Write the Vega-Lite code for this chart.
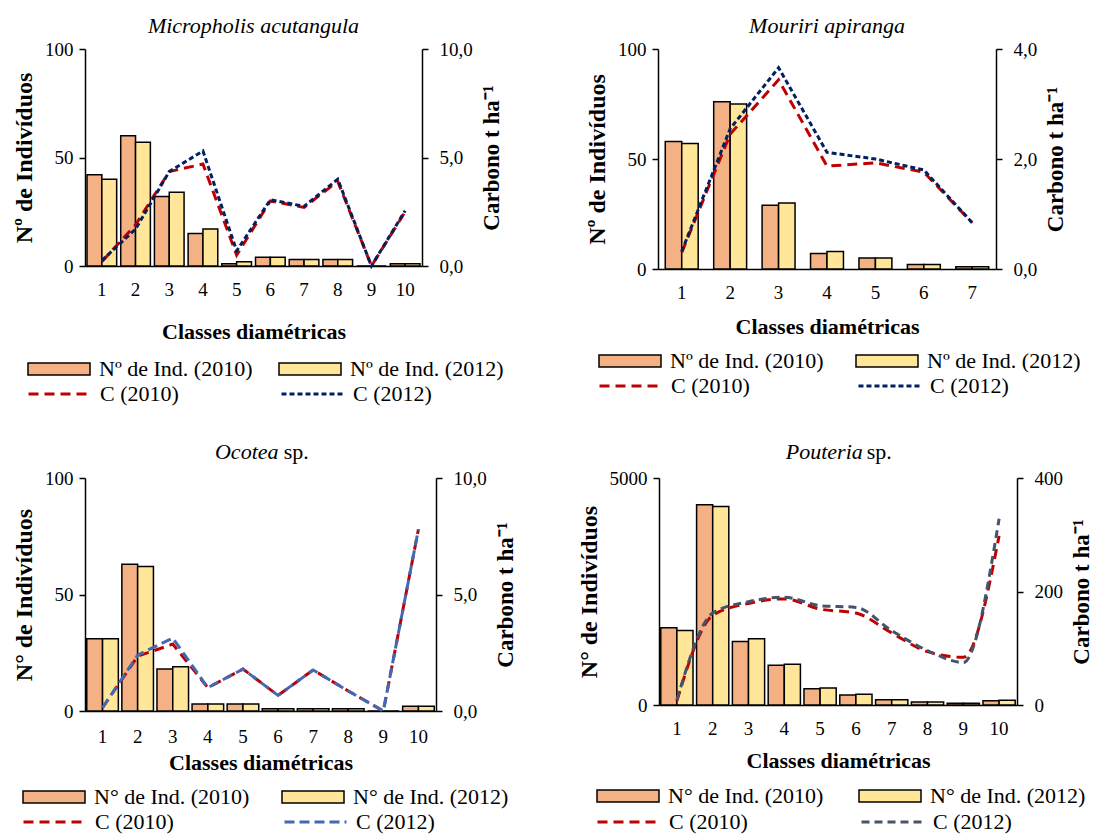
{
  "$schema": "https://vega.github.io/schema/vega-lite/v6.json",
  "padding": {"left": 12, "top": 15, "right": 5, "bottom": 5},
  "config": {
    "font": "Liberation Serif",
    "view": {"stroke": null},
    "axis": {"labelFont": "Liberation Serif", "labelFontSize": 19, "labelColor": "black", "titleFont": "Liberation Serif", "titleFontSize": 22, "titleFontWeight": "bold", "titleColor": "black", "domainColor": "black", "domainWidth": 1.5, "tickColor": "black", "tickWidth": 1.5, "tickSize": 6, "grid": false},
    "axisLeft": {"titleFontSize": 24},
    "axisRight": {"titleFontSize": 23},
    "legend": {"labelFont": "Liberation Serif", "labelFontSize": 22, "labelColor": "black", "padding": 0, "labelLimit": 400, "title": null},
    "title": {"font": "Liberation Serif", "fontSize": 22, "fontStyle": "italic", "fontWeight": "normal", "color": "black", "frame": "group", "anchor": "middle", "subtitleFont": "Liberation Serif", "subtitleFontSize": 22, "subtitleFontStyle": "normal", "subtitleColor": "black", "subtitlePadding": -22}
  },
  "resolve": {"scale": {"fill": "independent", "stroke": "independent", "strokeDash": "independent", "xOffset": "independent"}},
  "spacing": 36,
  "vconcat": [
    {
      "spacing": 81,
      "resolve": {"scale": {"fill": "independent", "stroke": "independent", "strokeDash": "independent", "xOffset": "independent"}},
      "hconcat": [
        {
          "width": 337, "height": 217,
          "title": {"text": "Micropholis acutangula", "offset": 2},
          "data": {"values": [
            {"classe": 1, "barra": "Nº de Ind. (2010)", "linha": "C (2010)", "n": 42, "c": 0.2},
            {"classe": 1, "barra": "Nº de Ind. (2012)", "linha": "C (2012)", "n": 40, "c": 0.25},
            {"classe": 2, "barra": "Nº de Ind. (2010)", "linha": "C (2010)", "n": 60, "c": 1.9},
            {"classe": 2, "barra": "Nº de Ind. (2012)", "linha": "C (2012)", "n": 57, "c": 1.7},
            {"classe": 3, "barra": "Nº de Ind. (2010)", "linha": "C (2010)", "n": 32, "c": 4.35},
            {"classe": 3, "barra": "Nº de Ind. (2012)", "linha": "C (2012)", "n": 34, "c": 4.35},
            {"classe": 4, "barra": "Nº de Ind. (2010)", "linha": "C (2010)", "n": 15, "c": 4.7},
            {"classe": 4, "barra": "Nº de Ind. (2012)", "linha": "C (2012)", "n": 17, "c": 5.3},
            {"classe": 5, "barra": "Nº de Ind. (2010)", "linha": "C (2010)", "n": 1, "c": 0.5},
            {"classe": 5, "barra": "Nº de Ind. (2012)", "linha": "C (2012)", "n": 2, "c": 0.7},
            {"classe": 6, "barra": "Nº de Ind. (2010)", "linha": "C (2010)", "n": 4, "c": 3.0},
            {"classe": 6, "barra": "Nº de Ind. (2012)", "linha": "C (2012)", "n": 4, "c": 3.05},
            {"classe": 7, "barra": "Nº de Ind. (2010)", "linha": "C (2010)", "n": 3, "c": 2.7},
            {"classe": 7, "barra": "Nº de Ind. (2012)", "linha": "C (2012)", "n": 3, "c": 2.75},
            {"classe": 8, "barra": "Nº de Ind. (2010)", "linha": "C (2010)", "n": 3, "c": 3.9},
            {"classe": 8, "barra": "Nº de Ind. (2012)", "linha": "C (2012)", "n": 3, "c": 4.0},
            {"classe": 9, "barra": "Nº de Ind. (2010)", "linha": "C (2010)", "n": 0, "c": 0.0},
            {"classe": 9, "barra": "Nº de Ind. (2012)", "linha": "C (2012)", "n": 0, "c": 0.0},
            {"classe": 10, "barra": "Nº de Ind. (2010)", "linha": "C (2010)", "n": 1, "c": 2.5},
            {"classe": 10, "barra": "Nº de Ind. (2012)", "linha": "C (2012)", "n": 1, "c": 2.55}
          ]},
          "layer": [
            {
              "mark": {"type": "bar", "stroke": "black", "strokeWidth": 1.5},
              "encoding": {
                "x": {"field": "classe", "type": "ordinal", "scale": {"paddingInner": 0.12, "paddingOuter": 0.06}, "axis": {"title": "Classes diamétricas", "labelAngle": 0, "ticks": false, "labelPadding": 14, "titlePadding": 22}},
                "xOffset": {"field": "barra", "type": "nominal"},
                "y": {"field": "n", "type": "quantitative", "scale": {"domain": [0, 100]}, "axis": {"title": "Nº de Indivíduos", "values": [0, 50, 100], "labelPadding": 6, "titlePadding": 8}},
                "fill": {"field": "barra", "type": "nominal", "scale": {"range": ["#F4B183", "#FFE699"]}, "legend": {"orient": "none", "legendX": -58, "legendY": 309, "direction": "horizontal", "columns": 2, "symbolType": "M-1,-0.19H1V0.19H-1Z", "symbolSize": 3844, "symbolStrokeColor": "black", "symbolStrokeWidth": 1.5, "labelOffset": 8, "columnPadding": 25, "clipHeight": 22}}
              }
            },
            {
              "mark": {"type": "line", "strokeWidth": 3},
              "encoding": {
                "x": {"field": "classe", "type": "ordinal"},
                "y": {"field": "c", "type": "quantitative", "scale": {"domain": [0, 10]}, "axis": {"orient": "right", "title": "Carbono t ha⁻¹", "values": [0, 5, 10], "labelExpr": "replace(format(datum.value, '.1f'), '.', ',')", "labelPadding": 11, "titlePadding": 8, "titleAngle": -90, "titleBaseline": "top"}},
                "stroke": {"field": "linha", "type": "nominal", "scale": {"range": ["#C00000", "#002060"]}, "legend": {"orient": "none", "legendX": -58, "legendY": 334, "direction": "horizontal", "columns": 2, "symbolType": "stroke", "symbolSize": 3844, "symbolStrokeWidth": 3, "labelOffset": 8, "columnPadding": 101, "clipHeight": 22}},
                "strokeDash": {"field": "linha", "type": "nominal", "scale": {"range": [[10, 6], [5, 3]]}, "legend": {"orient": "none", "legendX": -58, "legendY": 334, "direction": "horizontal", "columns": 2, "symbolType": "stroke", "symbolSize": 3844, "symbolStrokeWidth": 3, "labelOffset": 8, "columnPadding": 101, "clipHeight": 22}}
              }
            }
          ],
          "resolve": {"scale": {"y": "independent"}}
        },
        {
          "width": 338, "height": 220,
          "title": {"text": "Mouriri apiranga", "offset": 2},
          "data": {"values": [
            {"classe": 1, "barra": "Nº de Ind. (2010)", "linha": "C (2010)", "n": 58, "c": 0.3},
            {"classe": 1, "barra": "Nº de Ind. (2012)", "linha": "C (2012)", "n": 57, "c": 0.32},
            {"classe": 2, "barra": "Nº de Ind. (2010)", "linha": "C (2010)", "n": 76, "c": 2.45},
            {"classe": 2, "barra": "Nº de Ind. (2012)", "linha": "C (2012)", "n": 75, "c": 2.55},
            {"classe": 3, "barra": "Nº de Ind. (2010)", "linha": "C (2010)", "n": 29, "c": 3.44},
            {"classe": 3, "barra": "Nº de Ind. (2012)", "linha": "C (2012)", "n": 30, "c": 3.66},
            {"classe": 4, "barra": "Nº de Ind. (2010)", "linha": "C (2010)", "n": 7, "c": 1.87},
            {"classe": 4, "barra": "Nº de Ind. (2012)", "linha": "C (2012)", "n": 8, "c": 2.12},
            {"classe": 5, "barra": "Nº de Ind. (2010)", "linha": "C (2010)", "n": 5, "c": 1.93},
            {"classe": 5, "barra": "Nº de Ind. (2012)", "linha": "C (2012)", "n": 5, "c": 2.0},
            {"classe": 6, "barra": "Nº de Ind. (2010)", "linha": "C (2010)", "n": 2, "c": 1.76},
            {"classe": 6, "barra": "Nº de Ind. (2012)", "linha": "C (2012)", "n": 2, "c": 1.8},
            {"classe": 7, "barra": "Nº de Ind. (2010)", "linha": "C (2010)", "n": 1, "c": 0.84},
            {"classe": 7, "barra": "Nº de Ind. (2012)", "linha": "C (2012)", "n": 1, "c": 0.84}
          ]},
          "layer": [
            {
              "mark": {"type": "bar", "stroke": "black", "strokeWidth": 1.5},
              "encoding": {
                "x": {"field": "classe", "type": "ordinal", "scale": {"paddingInner": 0.32, "paddingOuter": 0.15}, "axis": {"title": "Classes diamétricas", "labelAngle": 0, "ticks": false, "labelPadding": 14, "titlePadding": 14}},
                "xOffset": {"field": "barra", "type": "nominal"},
                "y": {"field": "n", "type": "quantitative", "scale": {"domain": [0, 100]}, "axis": {"title": "Nº de Indivíduos", "values": [0, 50, 100], "labelPadding": 6, "titlePadding": 8}},
                "fill": {"field": "barra", "type": "nominal", "scale": {"range": ["#F4B183", "#FFE699"]}, "legend": {"orient": "none", "legendX": -60, "legendY": 301, "direction": "horizontal", "columns": 2, "symbolType": "M-1,-0.19H1V0.19H-1Z", "symbolSize": 3844, "symbolStrokeColor": "black", "symbolStrokeWidth": 1.5, "labelOffset": 8, "columnPadding": 31, "clipHeight": 22}}
              }
            },
            {
              "mark": {"type": "line", "strokeWidth": 3},
              "encoding": {
                "x": {"field": "classe", "type": "ordinal"},
                "y": {"field": "c", "type": "quantitative", "scale": {"domain": [0, 4]}, "axis": {"orient": "right", "title": "Carbono t ha⁻¹", "values": [0, 2, 4], "labelExpr": "replace(format(datum.value, '.1f'), '.', ',')", "labelPadding": 11, "titlePadding": 8, "titleAngle": -90, "titleBaseline": "top"}},
                "stroke": {"field": "linha", "type": "nominal", "scale": {"range": ["#C00000", "#002060"]}, "legend": {"orient": "none", "legendX": -60, "legendY": 326, "direction": "horizontal", "columns": 2, "symbolType": "stroke", "symbolSize": 3844, "symbolStrokeWidth": 3, "labelOffset": 8, "columnPadding": 107, "clipHeight": 22}},
                "strokeDash": {"field": "linha", "type": "nominal", "scale": {"range": [[10, 6], [5, 3]]}, "legend": {"orient": "none", "legendX": -60, "legendY": 326, "direction": "horizontal", "columns": 2, "symbolType": "stroke", "symbolSize": 3844, "symbolStrokeWidth": 3, "labelOffset": 8, "columnPadding": 107, "clipHeight": 22}}
              }
            }
          ],
          "resolve": {"scale": {"y": "independent"}}
        }
      ]
    },
    {
      "spacing": 59,
      "resolve": {"scale": {"fill": "independent", "stroke": "independent", "strokeDash": "independent", "xOffset": "independent"}},
      "hconcat": [
        {
          "width": 351, "height": 233,
          "title": {"text": "Ocotea\u00a0\u00a0\u00a0\u00a0\u00a0\u200b", "subtitle": "\u200b\u00a0\u00a0\u00a0\u00a0\u00a0\u00a0\u00a0\u00a0\u00a0\u00a0\u00a0\u00a0\u00a0sp.", "offset": 5},
          "data": {"values": [
            {"classe": 1, "barra": "N° de Ind. (2010)", "linha": "C (2010)", "n": 31, "c": 0.14},
            {"classe": 1, "barra": "N° de Ind. (2012)", "linha": "C (2012)", "n": 31, "c": 0.14},
            {"classe": 2, "barra": "N° de Ind. (2010)", "linha": "C (2010)", "n": 63, "c": 2.35},
            {"classe": 2, "barra": "N° de Ind. (2012)", "linha": "C (2012)", "n": 62, "c": 2.4},
            {"classe": 3, "barra": "N° de Ind. (2010)", "linha": "C (2010)", "n": 18, "c": 2.87},
            {"classe": 3, "barra": "N° de Ind. (2012)", "linha": "C (2012)", "n": 19, "c": 3.13},
            {"classe": 4, "barra": "N° de Ind. (2010)", "linha": "C (2010)", "n": 3, "c": 1.0},
            {"classe": 4, "barra": "N° de Ind. (2012)", "linha": "C (2012)", "n": 3, "c": 1.0},
            {"classe": 5, "barra": "N° de Ind. (2010)", "linha": "C (2010)", "n": 3, "c": 1.8},
            {"classe": 5, "barra": "N° de Ind. (2012)", "linha": "C (2012)", "n": 3, "c": 1.8},
            {"classe": 6, "barra": "N° de Ind. (2010)", "linha": "C (2010)", "n": 1, "c": 0.67},
            {"classe": 6, "barra": "N° de Ind. (2012)", "linha": "C (2012)", "n": 1, "c": 0.67},
            {"classe": 7, "barra": "N° de Ind. (2010)", "linha": "C (2010)", "n": 1, "c": 1.76},
            {"classe": 7, "barra": "N° de Ind. (2012)", "linha": "C (2012)", "n": 1, "c": 1.76},
            {"classe": 8, "barra": "N° de Ind. (2010)", "linha": "C (2010)", "n": 1, "c": 0.86},
            {"classe": 8, "barra": "N° de Ind. (2012)", "linha": "C (2012)", "n": 1, "c": 0.86},
            {"classe": 9, "barra": "N° de Ind. (2010)", "linha": "C (2010)", "n": 0, "c": 0.0},
            {"classe": 9, "barra": "N° de Ind. (2012)", "linha": "C (2012)", "n": 0, "c": 0.0},
            {"classe": 10, "barra": "N° de Ind. (2010)", "linha": "C (2010)", "n": 2, "c": 7.8},
            {"classe": 10, "barra": "N° de Ind. (2012)", "linha": "C (2012)", "n": 2, "c": 7.8}
          ]},
          "layer": [
            {
              "mark": {"type": "bar", "stroke": "black", "strokeWidth": 1.5},
              "encoding": {
                "x": {"field": "classe", "type": "ordinal", "scale": {"paddingInner": 0.1, "paddingOuter": 0.05}, "axis": {"title": "Classes diamétricas", "labelAngle": 0, "ticks": false, "labelPadding": 16, "titlePadding": 6}},
                "xOffset": {"field": "barra", "type": "nominal"},
                "y": {"field": "n", "type": "quantitative", "scale": {"domain": [0, 100]}, "axis": {"title": "N° de Indivíduos", "values": [0, 50, 100], "labelPadding": 6, "titlePadding": 8}},
                "fill": {"field": "barra", "type": "nominal", "scale": {"range": ["#F4B183", "#FFE699"]}, "legend": {"orient": "none", "legendX": -63, "legendY": 308, "direction": "horizontal", "columns": 2, "symbolType": "M-1,-0.19H1V0.19H-1Z", "symbolSize": 3844, "symbolStrokeColor": "black", "symbolStrokeWidth": 1.5, "labelOffset": 8, "columnPadding": 31, "clipHeight": 22}}
              }
            },
            {
              "mark": {"type": "line", "strokeWidth": 3},
              "encoding": {
                "x": {"field": "classe", "type": "ordinal"},
                "y": {"field": "c", "type": "quantitative", "scale": {"domain": [0, 10]}, "axis": {"orient": "right", "title": "Carbono t ha⁻¹", "values": [0, 5, 10], "labelExpr": "replace(format(datum.value, '.1f'), '.', ',')", "labelPadding": 11, "titlePadding": 8, "titleAngle": -90, "titleBaseline": "top"}},
                "stroke": {"field": "linha", "type": "nominal", "scale": {"range": ["#C00000", "#4169B4"]}, "legend": {"orient": "none", "legendX": -63, "legendY": 333, "direction": "horizontal", "columns": 2, "symbolType": "stroke", "symbolSize": 3844, "symbolStrokeWidth": 3, "labelOffset": 8, "columnPadding": 109, "clipHeight": 22}},
                "strokeDash": {"field": "linha", "type": "nominal", "scale": {"range": [[10, 6], [10, 5]]}, "legend": {"orient": "none", "legendX": -63, "legendY": 333, "direction": "horizontal", "columns": 2, "symbolType": "stroke", "symbolSize": 3844, "symbolStrokeWidth": 3, "labelOffset": 8, "columnPadding": 109, "clipHeight": 22}}
              }
            }
          ],
          "resolve": {"scale": {"y": "independent"}}
        },
        {
          "width": 358, "height": 227,
          "title": {"text": "Pouteria\u00a0\u00a0\u00a0\u00a0\u00a0\u200b", "subtitle": "\u200b\u00a0\u00a0\u00a0\u00a0\u00a0\u00a0\u00a0\u00a0\u00a0\u00a0\u00a0\u00a0\u00a0\u00a0\u00a0sp.", "offset": 5},
          "data": {"values": [
            {"classe": 1, "barra": "N° de Ind. (2010)", "linha": "C (2010)", "n": 1700, "c": 7.6},
            {"classe": 1, "barra": "N° de Ind. (2012)", "linha": "C (2012)", "n": 1640, "c": 9},
            {"classe": 2, "barra": "N° de Ind. (2010)", "linha": "C (2010)", "n": 4410, "c": 158},
            {"classe": 2, "barra": "N° de Ind. (2012)", "linha": "C (2012)", "n": 4370, "c": 162},
            {"classe": 3, "barra": "N° de Ind. (2010)", "linha": "C (2010)", "n": 1400, "c": 179},
            {"classe": 3, "barra": "N° de Ind. (2012)", "linha": "C (2012)", "n": 1460, "c": 182},
            {"classe": 4, "barra": "N° de Ind. (2010)", "linha": "C (2010)", "n": 875, "c": 187},
            {"classe": 4, "barra": "N° de Ind. (2012)", "linha": "C (2012)", "n": 897, "c": 190},
            {"classe": 5, "barra": "N° de Ind. (2010)", "linha": "C (2010)", "n": 360, "c": 169},
            {"classe": 5, "barra": "N° de Ind. (2012)", "linha": "C (2012)", "n": 375, "c": 175},
            {"classe": 6, "barra": "N° de Ind. (2010)", "linha": "C (2010)", "n": 220, "c": 162},
            {"classe": 6, "barra": "N° de Ind. (2012)", "linha": "C (2012)", "n": 235, "c": 172},
            {"classe": 7, "barra": "N° de Ind. (2010)", "linha": "C (2010)", "n": 118, "c": 127},
            {"classe": 7, "barra": "N° de Ind. (2012)", "linha": "C (2012)", "n": 118, "c": 131},
            {"classe": 8, "barra": "N° de Ind. (2010)", "linha": "C (2010)", "n": 66, "c": 94},
            {"classe": 8, "barra": "N° de Ind. (2012)", "linha": "C (2012)", "n": 66, "c": 96},
            {"classe": 9, "barra": "N° de Ind. (2010)", "linha": "C (2010)", "n": 37, "c": 84},
            {"classe": 9, "barra": "N° de Ind. (2012)", "linha": "C (2012)", "n": 37, "c": 75},
            {"classe": 10, "barra": "N° de Ind. (2010)", "linha": "C (2010)", "n": 96, "c": 298},
            {"classe": 10, "barra": "N° de Ind. (2012)", "linha": "C (2012)", "n": 103, "c": 328}
          ]},
          "layer": [
            {
              "mark": {"type": "bar", "stroke": "black", "strokeWidth": 1.5},
              "encoding": {
                "x": {"field": "classe", "type": "ordinal", "scale": {"paddingInner": 0.1, "paddingOuter": 0.05}, "axis": {"title": "Classes diamétricas", "labelAngle": 0, "ticks": false, "labelPadding": 14, "titlePadding": 12}},
                "xOffset": {"field": "barra", "type": "nominal"},
                "y": {"field": "n", "type": "quantitative", "scale": {"domain": [0, 5000]}, "axis": {"title": "N° de Indivíduos", "values": [0, 5000], "format": "d", "labelPadding": 6, "titlePadding": 8}},
                "fill": {"field": "barra", "type": "nominal", "scale": {"range": ["#F4B183", "#FFE699"]}, "legend": {"orient": "none", "legendX": -63, "legendY": 307, "direction": "horizontal", "columns": 2, "symbolType": "M-1,-0.19H1V0.19H-1Z", "symbolSize": 3844, "symbolStrokeColor": "black", "symbolStrokeWidth": 1.5, "labelOffset": 8, "columnPadding": 34, "clipHeight": 22}}
              }
            },
            {
              "mark": {"type": "line", "strokeWidth": 3, "interpolate": "monotone"},
              "encoding": {
                "x": {"field": "classe", "type": "ordinal"},
                "y": {"field": "c", "type": "quantitative", "scale": {"domain": [0, 400]}, "axis": {"orient": "right", "title": "Carbono t ha⁻¹", "values": [0, 200, 400], "labelPadding": 11, "titlePadding": 8, "titleAngle": -90, "titleBaseline": "top"}},
                "stroke": {"field": "linha", "type": "nominal", "scale": {"range": ["#C00000", "#44546A"]}, "legend": {"orient": "none", "legendX": -63, "legendY": 333, "direction": "horizontal", "columns": 2, "symbolType": "stroke", "symbolSize": 3844, "symbolStrokeWidth": 3, "labelOffset": 8, "columnPadding": 112, "clipHeight": 22}},
                "strokeDash": {"field": "linha", "type": "nominal", "scale": {"range": [[10, 6], [8, 5]]}, "legend": {"orient": "none", "legendX": -63, "legendY": 333, "direction": "horizontal", "columns": 2, "symbolType": "stroke", "symbolSize": 3844, "symbolStrokeWidth": 3, "labelOffset": 8, "columnPadding": 112, "clipHeight": 22}}
              }
            }
          ],
          "resolve": {"scale": {"y": "independent"}}
        }
      ]
    }
  ]
}
